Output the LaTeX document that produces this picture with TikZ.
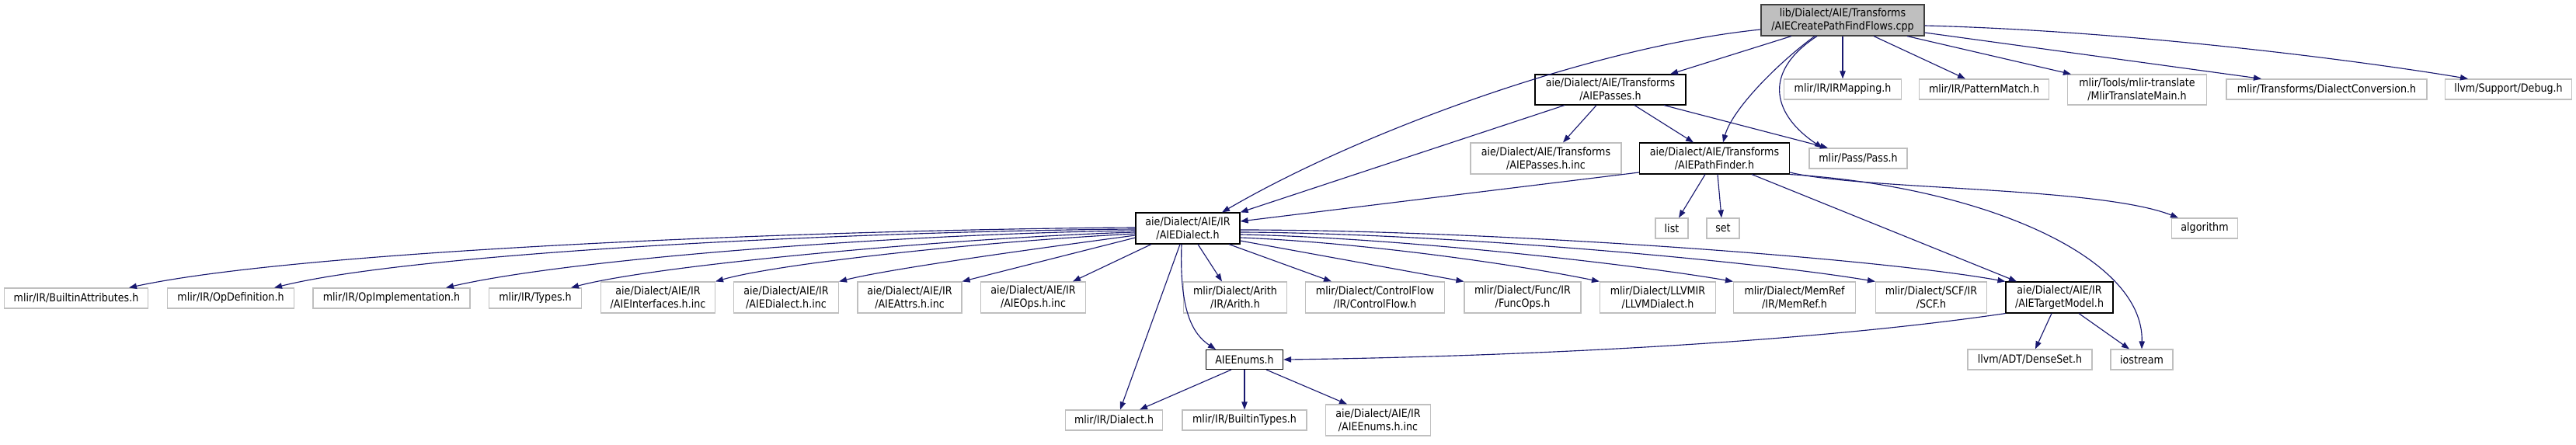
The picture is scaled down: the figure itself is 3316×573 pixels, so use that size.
\documentclass[tikz,border=0pt]{standalone}
\usepackage{fontspec}
\setmainfont{DejaVu Sans}[FakeStretch=0.88]
\usetikzlibrary{arrows.meta,calc}
\definecolor{edgec}{HTML}{191970}
\definecolor{gborder}{HTML}{BFBFBF}
\definecolor{rootfill}{HTML}{BFBFBF}
\definecolor{rootborder}{HTML}{404040}
\newcommand\mknode[7]{\node[#6,minimum width=#4*0.75pt,minimum height=#5*0.75pt] (#1) at (#2,#3) {#7};}
\begin{document}
\begin{tikzpicture}[x=0.75pt,y=-0.75pt,
  box/.style={draw=gborder,line width=0.85pt,fill=white,align=center,inner sep=0pt,font=\fontsize{10.8}{12.5}\selectfont},
  lbox/.style={box,draw=black},
  rbox/.style={box,fill=rootfill,draw=rootborder},
  edge/.style={draw=edgec,line width=0.85pt,-{Triangle[length=7.5pt,width=5.5pt]}}]
\fill[white] (0,0) rectangle (3316,573);
\path[use as bounding box] (0,0) rectangle (3316,573);
% nodes
\mknode{root}{2372}{26}{210}{40}{rbox}{lib/Dialect/AIE/Transforms\\/AIECreatePathFindFlows.cpp}
\mknode{apass}{2073}{115.5}{194}{39}{lbox}{aie/Dialect/AIE/Transforms\\/AIEPasses.h}
\mknode{irmap}{2372}{115}{151}{26}{box}{mlir/IR/IRMapping.h}
\mknode{patm}{2554}{115}{167}{26}{box}{mlir/IR/PatternMatch.h}
\mknode{mtm}{2751}{115.5}{179}{39}{box}{mlir/Tools/mlir-translate\\/MlirTranslateMain.h}
\mknode{dconv}{2995}{115}{258}{26}{box}{mlir/Transforms/DialectConversion.h}
\mknode{debug}{3229}{115}{163}{26}{box}{llvm/Support/Debug.h}
\mknode{pinc}{1990}{204}{194}{40}{box}{aie/Dialect/AIE/Transforms\\/AIEPasses.h.inc}
\mknode{pfind}{2207}{204}{193}{40}{lbox}{aie/Dialect/AIE/Transforms\\/AIEPathFinder.h}
\mknode{pass}{2392}{204}{126}{26}{box}{mlir/Pass/Pass.h}
\mknode{list}{2152}{294}{42}{26}{box}{list}
\mknode{set}{2218}{294}{42}{26}{box}{set}
\mknode{algo}{2838}{294}{85}{26}{box}{algorithm}
\mknode{aied}{1529}{294}{134}{40}{lbox}{aie/Dialect/AIE/IR\\/AIEDialect.h}
\mknode{battr}{98}{384}{185}{26}{box}{mlir/IR/BuiltinAttributes.h}
\mknode{opdef}{297}{384}{163}{26}{box}{mlir/IR/OpDefinition.h}
\mknode{opimpl}{504}{384}{202}{26}{box}{mlir/IR/OpImplementation.h}
\mknode{types}{689}{384}{119}{26}{box}{mlir/IR/Types.h}
\mknode{iface}{847}{383}{147}{40}{box}{aie/Dialect/AIE/IR\\/AIEInterfaces.h.inc}
\mknode{dinc}{1012}{383}{135}{40}{box}{aie/Dialect/AIE/IR\\/AIEDialect.h.inc}
\mknode{ainc}{1171}{383}{134}{40}{box}{aie/Dialect/AIE/IR\\/AIEAttrs.h.inc}
\mknode{oinc}{1330}{383}{135}{40}{box}{aie/Dialect/AIE/IR\\/AIEOps.h.inc}
\mknode{arith}{1590}{383}{133}{40}{box}{mlir/Dialect/Arith\\/IR/Arith.h}
\mknode{cflow}{1770}{383}{179}{40}{box}{mlir/Dialect/ControlFlow\\/IR/ControlFlow.h}
\mknode{func}{1960}{383}{150}{40}{box}{mlir/Dialect/Func/IR\\/FuncOps.h}
\mknode{llvm}{2134}{383}{149}{40}{box}{mlir/Dialect/LLVMIR\\/LLVMDialect.h}
\mknode{memref}{2310}{383}{157}{40}{box}{mlir/Dialect/MemRef\\/IR/MemRef.h}
\mknode{scf}{2486}{383}{143}{40}{box}{mlir/Dialect/SCF/IR\\/SCF.h}
\mknode{tmodel}{2651}{383}{138}{40}{lbox}{aie/Dialect/AIE/IR\\/AIETargetModel.h}
\mknode{enums}{1602}{463}{99}{25}{lbox}{AIEEnums.h}
\mknode{dense}{2613}{463}{160}{26}{box}{llvm/ADT/DenseSet.h}
\mknode{ios}{2757}{463}{80}{26}{box}{iostream}
\mknode{dial}{1434}{541}{125}{26}{box}{mlir/IR/Dialect.h}
\mknode{btypes}{1602}{541}{160}{26}{box}{mlir/IR/BuiltinTypes.h}
\mknode{einc}{1774}{541}{135}{40}{box}{aie/Dialect/AIE/IR\\/AIEEnums.h.inc}
% edges from root
\draw[edge] ($(root.west)+(0,12)$) .. controls (2050,60) and (1750,170) .. ($(aied.north)+(44,0)$);
\draw[edge] ($(root.south)+(-66,0)$) -- ($(apass.north)+(77,0)$);
\draw[edge] ($(root.south)+(-36,0)$) .. controls (2290,80) and (2230,140) .. ($(pfind.north)+(11,0)$);
\draw[edge] ($(root.south)+(-33,0)$) .. controls (2265,95) and (2285,150) .. ($(pass.north)+(-46,0)$);
\draw[edge] (root.south) -- (irmap.north);
\draw[edge] ($(root.south)+(40,0)$) -- ($(patm.north)+(-24,0)$);
\draw[edge] ($(root.south)+(83,0)$) -- ($(mtm.north west)+(5,0)$);
\draw[edge] ($(root.east)+(0,16)$) -- ($(dconv.north)+(-84,0)$);
\draw[edge] ($(root.east)+(0,7)$) .. controls (2750,40) and (3050,80) .. ($(debug.north)+(-52,0)$);
% edges from AIEPasses.h
\draw[edge] ($(apass.south)+(-59,0)$) -- (aied.north east);
\draw[edge] ($(apass.south)+(-18,0)$) -- ($(pinc.north)+(22,0)$);
\draw[edge] ($(apass.south)+(31,0)$) -- ($(pfind.north)+(-27,0)$);
\draw[edge] ($(apass.south)+(69,0)$) -- ($(pass.north)+(-39,0)$);
% edges from AIEPathFinder.h
\draw[edge] ($(pfind.west)+(0,18)$) -- ($(aied.east)+(0,-9)$);
\draw[edge] ($(pfind.south)+(-12,0)$) -- ($(list.north)+(9,0)$);
\draw[edge] ($(pfind.south)+(4,0)$) -- ($(set.north)+(-2,0)$);
\draw[edge] ($(pfind.east)+(0,18)$) .. controls (2400,245) and (2700,240) .. ($(algo.north)+(-34,0)$);
\draw[edge] ($(pfind.south)+(48,0)$) -- ($(tmodel.north)+(-55,0)$);
\draw[edge] (pfind.south east) .. controls (2550,240) and (2760,330) .. (ios.north);
% edges from AIEDialect.h
\draw[edge] ($(aied.west)+(0,-1)$) .. controls (1100,295) and (400,320) .. ($(battr.north)+(68,0)$);
\draw[edge] ($(aied.west)+(0,1)$) .. controls (1150,297) and (550,322) .. ($(opdef.north)+(56,0)$);
\draw[edge] ($(aied.west)+(0,3)$) .. controls (1200,300) and (750,330) .. ($(opimpl.north)+(70,0)$);
\draw[edge] ($(aied.west)+(0,5)$) .. controls (1250,305) and (850,340) .. ($(types.north)+(46,0)$);
\draw[edge] ($(aied.west)+(0,7)$) .. controls (1250,312) and (1000,340) .. (iface.north east);
\draw[edge] ($(aied.west)+(0,9)$) .. controls (1350,318) and (1150,345) .. (dinc.north east);
\draw[edge] ($(aied.west)+(0,12)$) -- (ainc.north east);
\draw[edge] ($(aied.south)+(-47,0)$) -- ($(oinc.north)+(51,0)$);
\draw[edge] ($(aied.south)+(-10,0)$) -- ($(dial.north)+(8,0)$);
\draw[edge] ($(aied.south)+(-8,0)$) .. controls (1518,400) and (1535,430) .. ($(enums.north)+(-37,0)$);
\draw[edge] ($(aied.south)+(13,0)$) -- ($(arith.north)+(-17,0)$);
\draw[edge] ($(aied.south)+(53,0)$) -- ($(cflow.north)+(-56,0)$);
\draw[edge] ($(aied.east)+(0,16)$) -- (func.north west);
\draw[edge] ($(aied.east)+(0,12)$) .. controls (1750,312) and (1950,340) .. (llvm.north west);
\draw[edge] ($(aied.east)+(0,8)$) .. controls (1800,306) and (2100,340) .. (memref.north west);
\draw[edge] ($(aied.east)+(0,5)$) .. controls (1850,300) and (2250,335) .. (scf.north west);
\draw[edge] ($(aied.east)+(0,2)$) .. controls (1900,296) and (2400,330) .. (tmodel.north west);
% edges from AIETargetModel.h
\draw[edge] (tmodel.south west) .. controls (2300,445) and (1900,460) .. (enums.east);
\draw[edge] ($(tmodel.south)+(-10,0)$) -- ($(dense.north)+(7,0)$);
\draw[edge] ($(tmodel.south)+(25,0)$) -- ($(ios.north)+(-16,0)$);
% edges from AIEEnums.h
\draw[edge] ($(enums.south)+(-17,0)$) -- ($(dial.north)+(33,0)$);
\draw[edge] (enums.south) -- (btypes.north);
\draw[edge] ($(enums.south)+(28,0)$) -- ($(einc.north)+(-40,0)$);
\end{tikzpicture}
\end{document}
